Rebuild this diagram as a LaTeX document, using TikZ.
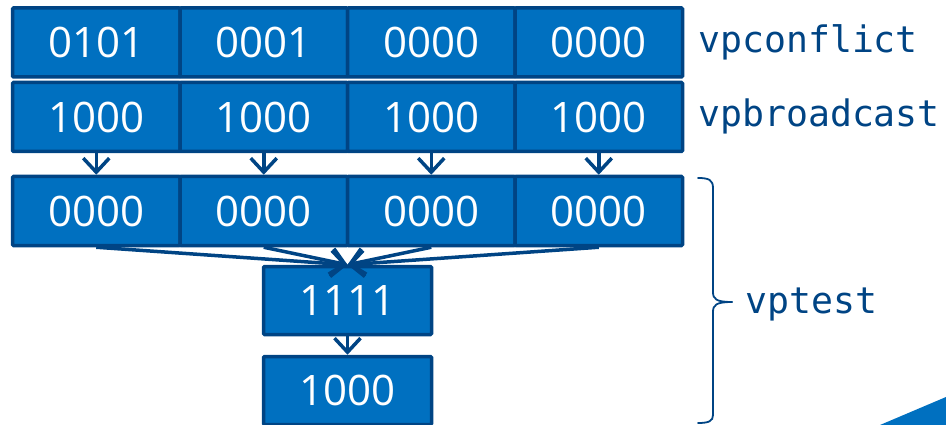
\documentclass[tikz,border=0pt]{standalone}
\usepackage{fontspec}
\setmainfont{Open Sans}
\newfontfamily\codefont{DejaVu Sans Mono}
\usetikzlibrary{arrows.meta}

\definecolor{cellfill}{RGB}{0,112,192}
\definecolor{celledge}{RGB}{0,68,132}

\tikzset{
  cell/.style={draw=celledge, fill=cellfill, line width=3.5pt, rounded corners=1pt,
    minimum width=167.5pt, minimum height=69pt, inner sep=0pt, text=white,
    font=\fontsize{42}{42}\selectfont},
  lane/.style={cell, minimum width=168pt, minimum height=68pt},
  flow/.style={draw=celledge, line width=3.5pt,
    -{Straight Barb[length=14pt,width=26pt,line width=3.5pt]}},
  opname/.style={anchor=base west, text=celledge, inner sep=0pt,
    font=\codefont\fontsize{36.5}{36.5}\selectfont},
  bracket/.style={draw=celledge, line width=1.8pt, line cap=round}
}

\begin{document}
\begin{tikzpicture}[x=1pt,y=1pt]
  \useasboundingbox (0,0) rectangle (946,-425);

  % vpconflict result
  \node[cell] (a1) at (96.25,-42.5) {0101};
  \node[cell] (a2) at (263.75,-42.5) {0001};
  \node[cell] (a3) at (431.25,-42.5) {0000};
  \node[cell] (a4) at (598.75,-42.5) {0000};

  % vpbroadcast result
  \node[cell] (b1) at (96.25,-117) {1000};
  \node[cell] (b2) at (263.75,-117) {1000};
  \node[cell] (b3) at (431.25,-117) {1000};
  \node[cell] (b4) at (598.75,-117) {1000};

  % lane-wise test
  \node[cell] (t1) at (96.25,-211) {0000};
  \node[cell] (t2) at (263.75,-211) {0000};
  \node[cell] (t3) at (431.25,-211) {0000};
  \node[cell] (t4) at (598.75,-211) {0000};

  % reduced mask and final value
  \node[lane] (m) at (347.5,-300.5) {1111};
  \node[lane] (r) at (347.5,-390.5) {1000};

  % broadcast lanes into the test
  \foreach \i in {1,2,3,4} {
    \draw[flow] (b\i.south) -- (t\i.north);
  }
  % all lanes merge into the mask
  \foreach \i in {1,2,3,4} {
    \draw[flow] (t\i.south) -- (m.north);
  }
  \draw[flow] (m.south) -- (r.north);

  % instruction names
  \node[opname] (n1) at (698,-53) {vpconflict};
  \node[opname] (n2) at (698,-127) {vpbroadcast};
  \node[opname] (n3) at (745,-313) {vptest};

  % bracket grouping the vptest steps
  \draw[bracket] (698,-178) .. controls (709,-178) and (713,-180) .. (713,-188)
    -- (713,-292) .. controls (713,-299) and (716,-302) .. (732,-302);
  \draw[bracket] (732,-302) .. controls (716,-302) and (713,-305) .. (713,-312)
    -- (713,-415) .. controls (713,-421) and (709,-423) .. (698,-423);

  % corner accent
  \fill[cellfill] (880,-425) -- (946,-397) -- (946,-425) -- cycle;
\end{tikzpicture}
\end{document}
